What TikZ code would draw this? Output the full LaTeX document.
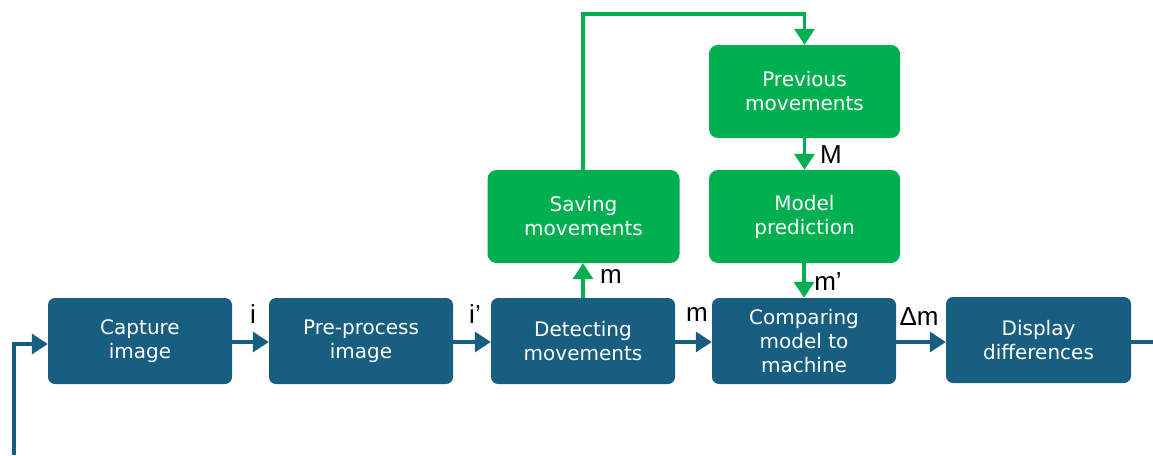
\documentclass[tikz,border=0pt]{standalone}
\usepackage{fontspec}
\setmainfont{DejaVu Sans}
\newfontfamily\lblfont{Liberation Sans}
\usetikzlibrary{arrows.meta}
\definecolor{boxblue}{HTML}{175E80}
\definecolor{boxgreen}{HTML}{00B050}
\tikzset{
  bluebox/.style={fill=boxblue, rounded corners=7pt, minimum width=184pt, minimum height=86pt, text=white, align=center, font=\fontsize{20}{24}\selectfont, inner sep=0pt},
  greenbox/.style={fill=boxgreen, rounded corners=9pt, minimum width=192pt, minimum height=93pt, text=white, align=center, font=\fontsize{20}{24}\selectfont, inner sep=0pt},
  bluearrow/.style={draw=boxblue, line width=3.5pt, -{Triangle[length=16pt,width=20pt]}},
  greenarrow/.style={draw=boxgreen, line width=3.5pt, -{Triangle[length=16pt,width=20pt]}},
  lbl/.style={font=\lblfont\fontsize{26}{26}\selectfont, inner sep=0pt, text=black}
}
\begin{document}
\begin{tikzpicture}[x=1pt,y=-1pt]
\useasboundingbox (0,0) rectangle (1153,455);
\node[bluebox] (cap) at (140,341) {Capture\\image};
\node[bluebox] (pre) at (361,341) {Pre-process\\image};
\node[bluebox] (det) at (583,341) {Detecting\\movements};
\node[bluebox] (cmp) at (804,341) {Comparing\\model to\\machine};
\node[bluebox, minimum width=185pt] (dis) at (1038.5,340) {Display\\differences};
\node[greenbox] (sav) at (583.5,216.5) {Saving\\movements};
\node[greenbox, minimum width=191pt] (prev) at (804.5,91.5) {Previous\\movements};
\node[greenbox, minimum width=191pt] (mod) at (804.5,216.5) {Model\\prediction};
\coordinate (start) at (14,455);
\coordinate (endr) at (1153,342);
% blue flow
\draw[bluearrow] (start) |- (cap.west |- 0,344);
\draw[bluearrow] (cap.east |- 0,342) -- (pre.west |- 0,342);
\draw[bluearrow] (pre.east |- 0,342) -- (det.west |- 0,342);
\draw[bluearrow] (det.east |- 0,342) -- (cmp.west |- 0,342);
\draw[bluearrow] (cmp.east |- 0,342) -- (dis.west |- 0,342);
\draw[draw=boxblue, line width=3.5pt] (dis.east |- 0,342) -- (endr);
% green flow
\draw[greenarrow] (det.north) -- (sav.south -| det.north);
\draw[greenarrow] (sav.north -| det.north) |- (0,14 -| prev.north) -- (prev.north);
\draw[greenarrow] (prev.south) -- (mod.north);
\draw[greenarrow] (mod.south -| cmp.north) -- (cmp.north);
% labels
\node[lbl] (li) at (253,314) {i};
\node[lbl] (lip) at (475,314) {i’};
\node[lbl] (lm) at (697,315) {m};
\node[lbl] (ldm) at (919,317) {Δm};
\node[lbl] (lms) at (611,277) {m};
\node[lbl] (lmp) at (828,282) {m’};
\node[lbl] (lM) at (831,155) {M};
\end{tikzpicture}
\end{document}
